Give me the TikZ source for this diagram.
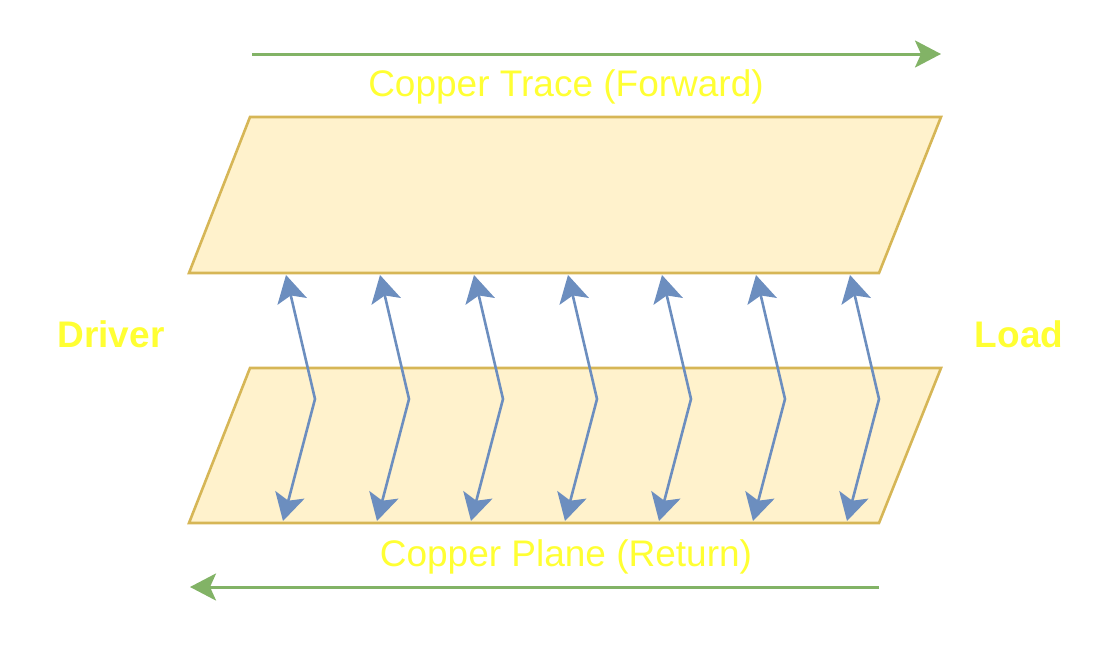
\documentclass[tikz,border=0pt]{standalone}
\usepackage{fontspec}
\setmainfont{Liberation Sans}
\usetikzlibrary{arrows.meta}
\definecolor{plfill}{HTML}{FFF2CC}
\definecolor{pldraw}{HTML}{D6B656}
\definecolor{fieldblue}{HTML}{6C8EBF}
\definecolor{flowgreen}{HTML}{82B366}
\definecolor{labelyellow}{HTML}{FFFF33}
\tikzset{
  plate/.style={fill=plfill, draw=pldraw, line width=2.6pt, line join=miter},
  field/.style={draw=fieldblue, line width=2.6pt, {Stealth[length=27pt,width=30pt,inset=6pt]}-{Stealth[length=27pt,width=30pt,inset=6pt]}},
  flow/.style={draw=flowgreen, line width=3pt, -{Stealth[length=26pt,width=27pt,inset=6pt]}},
  lbl/.style={text=labelyellow, font=\fontsize{37}{40}\selectfont, inner sep=0pt, anchor=base},
  side/.style={text=labelyellow, font=\fontsize{37}{40}\selectfont\bfseries, inner sep=0pt, anchor=base},
}
\begin{document}
\begin{tikzpicture}[x=1pt,y=-1pt]
\useasboundingbox (0,0) rectangle (1115,645);
% plates
\draw[plate] (250,117) -- (941,117) -- (879,273) -- (189,273) -- cycle;
\draw[plate] (250,368) -- (941,368) -- (879,523) -- (189,523) -- cycle;
% field arrows
\foreach \i in {0,...,6}{
  \coordinate (t\i) at ({286+94*\i},275);
  \coordinate (k\i) at ({315+94*\i},399);
  \coordinate (b\i) at ({283+94*\i},521);
  \draw[field] (t\i) -- (k\i) -- (b\i);
}
% current flow arrows
\coordinate (fs) at (252,54);
\coordinate (fe) at (941,54);
\coordinate (rs) at (879,587);
\coordinate (re) at (190,587);
\draw[flow] (fs) -- (fe);
\draw[flow] (rs) -- (re);
% labels
\node[lbl] (trace) at (566,96) {Copper Trace (Forward)};
\node[lbl] (plane) at (566,566) {Copper Plane (Return)};
\node[side] (driver) at (111,347) {Driver};
\node[side] (load) at (1019,347) {Load};
\end{tikzpicture}
\end{document}
